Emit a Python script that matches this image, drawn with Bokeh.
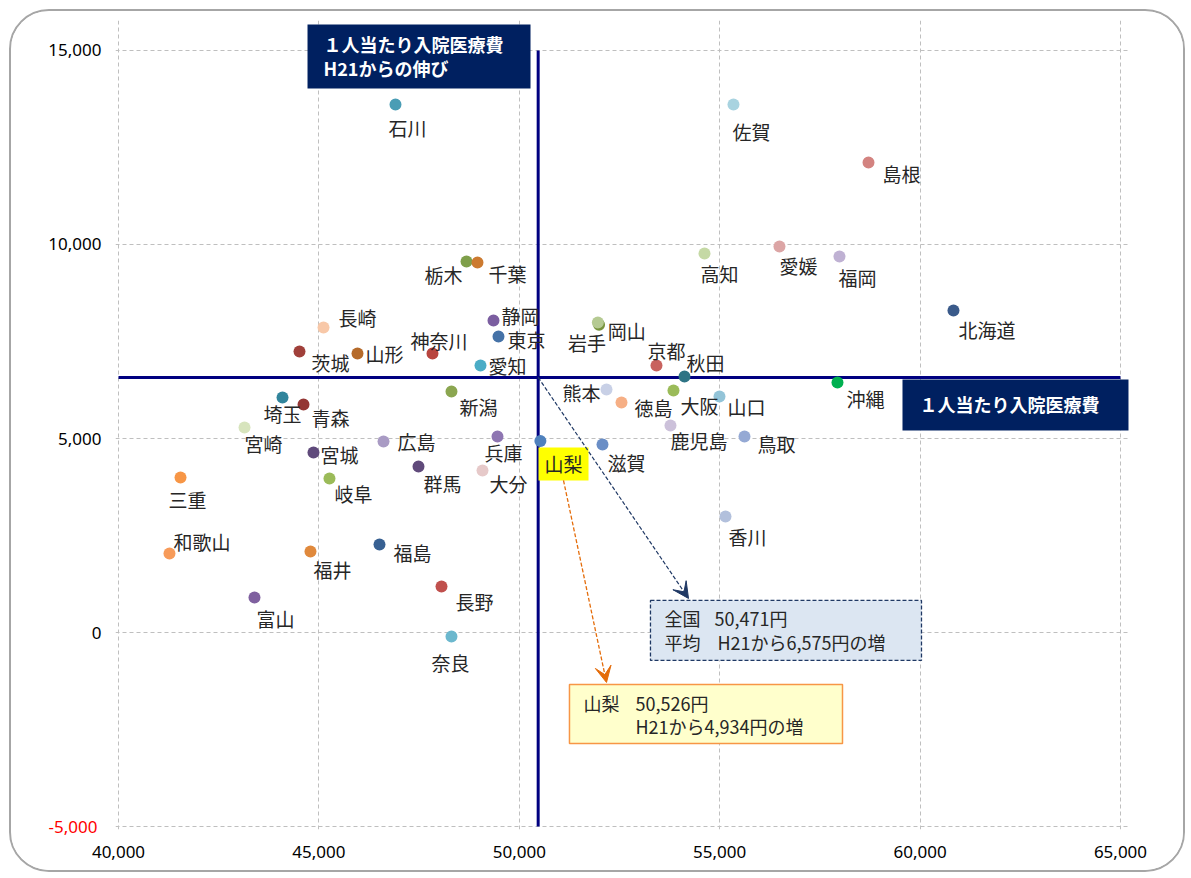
from bokeh.plotting import figure
from bokeh.models import (Label, Arrow, VeeHead, ColumnDataSource, LinearAxis,
                          NumeralTickFormatter, FixedTicker, Range1d, BoxAnnotation)
from bokeh.core.properties import value
from bokeh.embed import file_html
from bokeh.resources import INLINE

# ---------------- data ----------------
prefectures = ["北海道", "青森", "岩手", "宮城", "秋田", "山形", "福島", "茨城", "栃木", "群馬",
               "埼玉", "千葉", "東京", "神奈川", "新潟", "富山", "石川", "福井", "山梨", "長野",
               "岐阜", "静岡", "愛知", "三重", "滋賀", "京都", "大阪", "兵庫", "奈良", "和歌山",
               "鳥取", "島根", "岡山", "広島", "山口", "徳島", "香川", "愛媛", "高知", "福岡",
               "佐賀", "長崎", "熊本", "大分", "宮崎", "鹿児島", "沖縄"]
# 1人当たり入院医療費 (円)
cost_per_person = [60833, 44616, 51990, 44865, 54122, 45963, 46512, 44516, 48683, 47485,
                   44092, 48957, 49481, 47834, 48308, 43393, 46911, 44790, 50526, 48059,
                   45264, 49356, 49032, 41547, 52076, 53423, 53847, 49456, 48308, 41272,
                   55619, 58713, 51960, 46612, 54995, 52550, 55145, 56492, 54621, 57989,
                   55344, 45115, 52176, 49082, 43144, 53772, 57939]
# H21からの伸び (円)
growth_since_h21 = [8300, 5878, 7930, 4640, 6599, 7192, 2270, 7243, 9563, 4280,
                    6058, 9537, 7630, 7192, 6212, 904, 13608, 2090, 4934, 1187,
                    3970, 8042, 6882, 3996, 4847, 6882, 6238, 5053, -103, 2038,
                    5053, 12114, 7990, 4924, 6083, 5929, 2991, 9949, 9769, 9691,
                    13608, 7862, 6264, 4177, 5285, 5336, 6444]
national_avg_cost = 50471
national_avg_growth = 6575

x_ticks = [40000, 45000, 50000, 55000, 60000, 65000]
y_ticks = [-5000, 0, 5000, 10000, 15000]

# ---------------- styles ----------------
colors = ["#3A5A8A", "#943634", "#77933C", "#5F4A7B", "#2E7485", "#B56A2A", "#376092", "#A0403A", "#7F9F4A", "#604A7B",
          "#31859C", "#CC7A30", "#4572A7", "#B8453F", "#8BA650", "#7F609F", "#4A9DB5", "#E0893C", "#4F81BD", "#C0504D",
          "#9BBB59", "#7B5EA0", "#4BACC6", "#F79646", "#6A8EC6", "#C8625E", "#9BBB59", "#8E76B2", "#6CB8CE", "#F79B5A",
          "#95A9D4", "#D38380", "#B5CA92", "#A99BC4", "#93C4D8", "#F6AF85", "#B2C0DC", "#DCA5A5", "#C5D9A5", "#BFB1D3",
          "#A8D3E0", "#F8C8A8", "#C8D0E6", "#E6C9C9", "#D7E4BD", "#CCC1DA", "#00B050"]
label_dx = [5, 8, -31, 7, 2, 8, 14, 12, -42, 5,
            -19, 11, 9, -22, 8, 2, -7, 3, 200, 14,
            5, 8, 8, -12, 5, -9, 7, -13, -20, 4,
            13, 14, 10, 14, 8, 13, 3, 0, -4, -1,
            -1, 15, -44, 7, 0, 0, 9]
label_dy = [19, 13, 18, 2, -14, 0, 8, 11, 13, 17,
            16, 11, 3, -13, 15, 21, 23, 18, 0, 15,
            15, -5, 0, 22, 18, -15, 15, 16, 26, -12,
            7, 11, 8, 0, 10, 5, 20, 19, 20, 21,
            27, -10, 3, 13, 16, 15, 16]
label_text = [("" if n == "山梨" else n) for n in prefectures]

JP = "Noto Sans CJK JP"
NAVY = "#002060"
TXT = "#262626"
GRID = "#BFBFBF"

# frame is extended a little beyond the data area so the callout boxes / edge grid lines are not clipped
p = figure(width=1176, height=863, output_backend="svg", toolbar_location=None,
           x_range=Range1d(39925, 65250), y_range=Range1d(-5077, 15773),
           min_border_left=104, min_border_right=57, min_border_top=9, min_border_bottom=45,
           background_fill_color="white", border_fill_color="white")
p.styles = {"border": "2px solid #A6A6A6", "border-radius": "40px", "overflow": "hidden",
            "margin-left": "9px", "margin-top": "9px"}

p.outline_line_color = None
for g in (p.xgrid, p.ygrid):
    g.grid_line_color = GRID
    g.grid_line_dash = "4 3"
    g.grid_line_width = 1
p.xgrid.ticker = FixedTicker(ticks=x_ticks)
p.ygrid.ticker = FixedTicker(ticks=y_ticks)
p.xgrid.bounds = (y_ticks[0], y_ticks[-1])
p.ygrid.bounds = (x_ticks[0], x_ticks[-1])

def style_axis(ax, color="#000000"):
    ax.formatter = NumeralTickFormatter(format="0,0")
    ax.axis_line_color = None
    ax.major_tick_line_color = None
    ax.minor_tick_line_color = None
    ax.major_tick_in = 0
    ax.major_tick_out = 0
    ax.minor_tick_in = 0
    ax.minor_tick_out = 0
    ax.major_label_text_font = "Noto Sans"
    ax.major_label_text_font_size = "17px"
    ax.major_label_text_color = color

p.xaxis.ticker = FixedTicker(ticks=x_ticks)
p.yaxis.ticker = FixedTicker(ticks=[t for t in y_ticks if t >= 0])
style_axis(p.xaxis[0])
style_axis(p.yaxis[0])
p.xaxis.major_label_standoff = 16
p.yaxis.major_label_standoff = 14

# negative tick label drawn in red by a second left axis, pulled back next to the frame
neg_axis = LinearAxis(ticker=FixedTicker(ticks=[t for t in y_ticks if t < 0]))
style_axis(neg_axis, "#FF0000")
neg_axis.major_label_standoff = -52
p.add_layout(neg_axis, "left")

# average lines (limited to the data area)
p.segment(x0=[national_avg_cost], y0=[y_ticks[0]], x1=[national_avg_cost], y1=[y_ticks[-1]],
          line_color="#000080", line_width=3)
p.segment(x0=[x_ticks[0]], y0=[national_avg_growth], x1=[x_ticks[-1]], y1=[national_avg_growth],
          line_color="#000080", line_width=3)

src = ColumnDataSource(dict(x=cost_per_person, y=growth_since_h21, name=label_text,
                            color=colors, dx=label_dx, dy=label_dy))
p.scatter("x", "y", source=src, size=12, fill_color="color", line_color=None)
p.text("x", "y", text="name", source=src, x_offset="dx", y_offset="dy",
       text_font=value(JP), text_font_size="19px", text_color=TXT,
       text_align="left", text_baseline="middle")

# 山梨 highlight
p.add_layout(BoxAnnotation(left=50479, right=51727, top=4769, bottom=3919,
                           fill_color="#FFFF00", fill_alpha=1, line_color=None))
p.add_layout(Label(x=50629, y=4344, text="山梨", text_font=JP, text_font_size="19px",
                   text_color=TXT, text_align="left", text_baseline="middle"))

# arrows
p.add_layout(Arrow(x_start=national_avg_cost, y_start=national_avg_growth, x_end=54222, y_end=878,
                   line_color="#1F3864", line_width=1.2, line_dash="4 2",
                   end=VeeHead(size=16, fill_color="#1F3864", line_color="#1F3864")))
p.add_layout(Arrow(x_start=51103, y_start=3919, x_end=52176, y_end=-1287,
                   line_color="#E46C0A", line_width=1.3, line_dash="4 2",
                   end=VeeHead(size=16, fill_color="#E46C0A", line_color="#E46C0A")))

# info boxes
def txt(x, y, s, size="18px"):
    p.add_layout(Label(x=x, y=y, text=s, text_font=JP, text_font_size=size,
                       text_color=TXT, text_align="left", text_baseline="middle"))

p.add_layout(BoxAnnotation(left=53273, right=60035, top=826, bottom=-720,
                           fill_color="#DCE6F2", fill_alpha=1, line_color="#1F3864", line_alpha=1,
                           line_width=1.3, line_dash="4 2"))
txt(53623, 362, "全国")
txt(53623, -256, "平均")
txt(54870, 362, "50,471円")
txt(54945, -256, "H21から6,575円の増")

p.add_layout(BoxAnnotation(left=51252, right=58064, top=-1338, bottom=-2859,
                           fill_color="#FFFFCC", fill_alpha=1, line_color="#F79646", line_alpha=1,
                           line_width=1.5))
txt(51602, -1828, "山梨")
txt(52899, -1828, "50,526円")
txt(52899, -2421, "H21から4,934円の増")

# title boxes
p.add_layout(Label(x=44716, y=15670, text="１人当たり入院医療費",
                   text_font=JP, text_font_size="18px", text_font_style="bold", text_color="white",
                   text_align="left", text_baseline="top", background_fill_color=NAVY,
                   padding=dict(left=16, right=27, top=7, bottom=31)))
p.add_layout(Label(x=45115, y=14536, text="H21からの伸び",
                   text_font=JP, text_font_size="18px", text_font_style="bold", text_color="white",
                   text_align="left", text_baseline="middle"))
p.add_layout(Label(x=59561, y=6522, text="１人当たり入院医療費",
                   text_font=JP, text_font_size="18px", text_font_style="bold", text_color="white",
                   text_align="left", text_baseline="top", background_fill_color=NAVY,
                   padding=dict(left=17, right=29, top=12, bottom=13)))

open("out.html", "w").write(file_html(p, INLINE))
